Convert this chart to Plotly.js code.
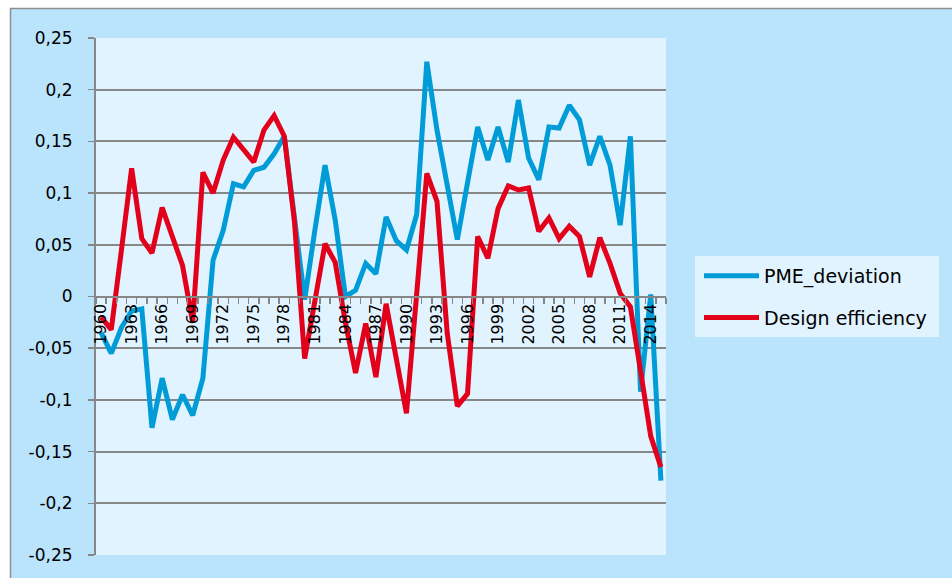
<!DOCTYPE html>
<html>
<head>
<meta charset="utf-8">
<script src="https://cdn.plot.ly/plotly-3.0.1.min.js"></script>
<style>
html, body { margin: 0; padding: 0; background: #ffffff; }
#chart { width: 952px; height: 578px; }
</style>
</head>
<body>
<div id="chart"></div>
<script>
// ---- data ----
const years = [1960, 1961, 1962, 1963, 1964, 1965, 1966, 1967, 1968, 1969,
  1970, 1971, 1972, 1973, 1974, 1975, 1976, 1977, 1978, 1979,
  1980, 1981, 1982, 1983, 1984, 1985, 1986, 1987, 1988, 1989,
  1990, 1991, 1992, 1993, 1994, 1995, 1996, 1997, 1998, 1999,
  2000, 2001, 2002, 2003, 2004, 2005, 2006, 2007, 2008, 2009,
  2010, 2011, 2012, 2013, 2014, 2015];

const pmeDeviation = [-0.035, -0.055, -0.030, -0.014, -0.012, -0.127, -0.079, -0.119, -0.095, -0.115,
  -0.079, 0.035, 0.064, 0.109, 0.106, 0.122, 0.125, 0.138, 0.155, 0.080,
  -0.003, 0.064, 0.127, 0.074, 0.000, 0.006, 0.032, 0.022, 0.077, 0.054,
  0.045, 0.079, 0.227, 0.161, 0.106, 0.055, 0.110, 0.164, 0.132, 0.164,
  0.130, 0.190, 0.134, 0.113, 0.164, 0.163, 0.185, 0.171, 0.127, 0.155,
  0.127, 0.069, 0.155, -0.092, 0.002, -0.178];

const designEfficiency = [-0.020, -0.032, 0.045, 0.124, 0.056, 0.042, 0.086, 0.058, 0.030, -0.025,
  0.120, 0.100, 0.132, 0.154, 0.142, 0.130, 0.161, 0.175, 0.155, 0.072,
  -0.060, -0.005, 0.051, 0.033, -0.025, -0.074, -0.026, -0.078, -0.007, -0.060,
  -0.113, 0.002, 0.119, 0.092, -0.035, -0.106, -0.094, 0.058, 0.037, 0.085,
  0.107, 0.103, 0.105, 0.063, 0.076, 0.056, 0.068, 0.058, 0.019, 0.057,
  0.032, 0.003, -0.010, -0.072, -0.135, -0.165];

const seriesNames = ['PME_deviation', 'Design efficiency'];

const xTickVals = [1960, 1963, 1966, 1969, 1972, 1975, 1978, 1981, 1984, 1987,
  1990, 1993, 1996, 1999, 2002, 2005, 2008, 2011, 2014];
const xTickText = ['1960', '1963', '1966', '1969', '1972', '1975', '1978', '1981', '1984', '1987',
  '1990', '1993', '1996', '1999', '2002', '2005', '2008', '2011', '2014'];

const yTickVals = [0.25, 0.2, 0.15, 0.1, 0.05, 0, -0.05, -0.1, -0.15, -0.2, -0.25];
const yTickText = ['0,25', '0,2', '0,15', '0,1', '0,05', '0', '-0,05', '-0,1', '-0,15', '-0,2', '-0,25'];

// ---- styles ----
const gridGray = '#878787';
const traces = [
  {
    x: years, y: pmeDeviation, name: seriesNames[0], type: 'scatter', mode: 'lines',
    line: { color: '#009CD8', width: 5, shape: 'linear' }, legendgroup: 'a'
  },
  {
    x: years, y: designEfficiency, name: seriesNames[1], type: 'scatter', mode: 'lines',
    line: { color: '#E2001A', width: 5, shape: 'linear' }, legendgroup: 'b'
  }
];

const layout = {
  width: 952, height: 578,
  margin: { l: 96, r: 286, t: 38, b: 23, pad: 0 },
  paper_bgcolor: '#ffffff',
  plot_bgcolor: 'rgba(0,0,0,0)',
  font: { family: 'DejaVu Sans, sans-serif', color: '#000000', size: 16 },
  showlegend: true,
  legend: {
    x: 1.0579, y: 0.5764, xanchor: 'left', yanchor: 'top',
    bgcolor: 'rgba(0,0,0,0)', borderwidth: 0,
    font: { size: 19, color: '#000000' },
    traceorder: 'grouped', tracegroupgap: 14, itemwidth: 55
  },
  xaxis: {
    type: 'linear', range: [1959.5, 2015.5],
    anchor: 'free', position: 0.5,
    tickmode: 'array', tickvals: xTickVals, ticktext: xTickText,
    tickangle: -90, ticks: '', showgrid: false, zeroline: false,
    showline: true, linecolor: gridGray, linewidth: 2,
    tickfont: { size: 16 },
    minor: { tickmode: 'linear', tick0: 1959.5, dtick: 1, ticks: 'outside', ticklen: 6,
             tickcolor: gridGray, tickwidth: 1.5, showgrid: false },
    fixedrange: true
  },
  yaxis: {
    range: [-0.25, 0.25],
    tickmode: 'array', tickvals: yTickVals, ticktext: yTickText,
    ticks: 'outside', ticklen: 6, tickcolor: gridGray, tickwidth: 1.5,
    showgrid: true, gridcolor: gridGray, gridwidth: 2, zeroline: false,
    showline: true, linecolor: gridGray, linewidth: 2,
    tickfont: { size: 17 }, ticklabelstandoff: 12,
    fixedrange: true
  },
  shapes: [
    { type: 'rect', xref: 'paper', yref: 'paper', layer: 'below',
      x0: -0.1500, x1: 2.0, y0: -0.3, y1: 1.0571,
      fillcolor: '#BAE3FC', line: { color: '#8E8E8E', width: 1.5 } },
    { type: 'rect', xref: 'paper', yref: 'paper', layer: 'below',
      x0: 0, x1: 1, y0: 0, y1: 1,
      fillcolor: '#E1F3FE', line: { width: 0 } },
    { type: 'rect', xref: 'paper', yref: 'paper', layer: 'below',
      x0: 1.0509, x1: 1.4789, y0: 0.4217, y1: 0.5783,
      fillcolor: '#E1F3FE', line: { width: 0 } }
  ]
};

Plotly.newPlot('chart', traces, layout, { displayModeBar: false, staticPlot: true });
</script>
</body>
</html>
